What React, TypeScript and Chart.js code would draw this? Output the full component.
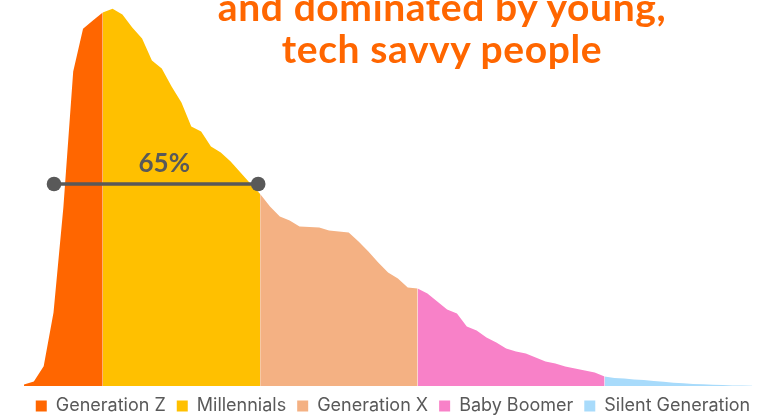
import React, { useEffect, useRef } from "react";
import { Chart, registerables } from "chart.js";

Chart.register(...registerables);

// Age of users (x axis)
const ages = [
  17, 18, 19, 20, 21, 22, 23, 24, 25, 26, 27, 28, 29, 30, 31, 32, 33, 34, 35, 36,
  37, 38, 39, 40, 41, 42, 43, 44, 45, 46, 47, 48, 49, 50, 51, 52, 53, 54, 55, 56,
  57, 58, 59, 60, 61, 62, 63, 64, 65, 66, 67, 68, 69, 70, 71, 72, 73, 74, 75, 76,
  77, 78, 79, 80, 81, 82, 83, 84, 85, 86, 87, 88, 89, 90, 91,
];

// Relative share of users at each age
const shares = [
  0.15, 0.45, 1.98, 7.35, 17.85, 31.45, 35.72, 36.55, 37.35, 37.72,
  37.15, 35.85, 34.75, 32.55, 31.75, 29.95, 28.35, 25.95, 25.45, 23.95,
  23.35, 22.45, 21.35, 20.25, 19.2, 17.95, 16.95, 16.55, 15.95, 15.9,
  15.85, 15.55, 15.45, 15.35, 14.45, 13.45, 12.35, 11.35, 10.75, 9.85,
  9.75, 9.25, 8.45, 7.65, 7.25, 5.95, 5.55, 4.85, 4.35, 3.75,
  3.45, 3.25, 2.85, 2.45, 2.25, 1.95, 1.75, 1.55, 1.35, 0.95,
  0.8, 0.75, 0.65, 0.59, 0.51, 0.42, 0.33, 0.27, 0.21, 0.17,
  0.13, 0.09, 0.06, 0.04, 0.02,
];

const generations = ["Generation Z", "Millennials", "Generation X", "Baby Boomer", "Silent Generation"];
const generationStartAges = [17, 25, 41, 57, 76];
const generationEndAges = [25, 41, 57, 76, 91];
const generationColors = ["#FF6600", "#FFC000", "#F4B183", "#F881C8", "#A8DBFB"];

const markerAges = [20.05, 40.8];
const markerLevel = 20.2;
const markerLabel = "65%";
const markerLabelAge = 31.25;
const markerLabelLevel = 21.45;

const titleLines = ["and dominated by young,", "tech savvy people"];

const markerLabelPlugin = {
  id: "markerLabel",
  afterDatasetsDraw(chart: any) {
    const { ctx, scales } = chart;
    ctx.save();
    ctx.font = "700 26px Lato";
    ctx.fillStyle = "#595959";
    ctx.textAlign = "center";
    ctx.textBaseline = "alphabetic";
    ctx.fillText(
      markerLabel,
      scales.x.getPixelForValue(markerLabelAge),
      scales.y.getPixelForValue(markerLabelLevel)
    );
    ctx.restore();
  },
};

export default function App() {
  const canvasRef = useRef<HTMLCanvasElement | null>(null);

  useEffect(() => {
    if (!canvasRef.current) return;
    const areaSets = generations.map((name, g) => ({
      type: "line" as const,
      label: name,
      data: ages
        .map((a, i) => ({ x: a, y: shares[i] }))
        .filter((p) => p.x >= generationStartAges[g] && p.x <= generationEndAges[g]),
      backgroundColor: generationColors[g],
      borderColor: "rgba(0,0,0,0)",
      borderWidth: 0,
      pointRadius: 0,
      pointHoverRadius: 0,
      fill: "origin",
      tension: 0,
      order: 1,
    }));
    const markerSet = {
      type: "line" as const,
      label: "marker",
      data: markerAges.map((a) => ({ x: a, y: markerLevel })),
      borderColor: "#595959",
      backgroundColor: "#595959",
      borderWidth: 3.4,
      pointRadius: 7.3,
      pointBorderWidth: 0,
      pointBackgroundColor: "#595959",
      fill: false,
      order: -1,
      clip: false,
    };
    const chart = new Chart(canvasRef.current, {
      type: "line",
      data: { datasets: [...areaSets, markerSet] as any },
      options: {
        animation: false,
        responsive: false,
        events: [],
        layout: { autoPadding: false, padding: { left: 24, right: 5, top: 0, bottom: 0 } },
        scales: {
          x: { type: "linear", min: 17, max: 92, display: false },
          y: { min: 0, max: 38.6, display: false },
        },
        plugins: {
          tooltip: { enabled: false },
          legend: {
            position: "bottom",
            labels: {
              font: { family: "Inter", size: 18 },
              color: "#595959",
              boxWidth: 11,
              boxHeight: 11,
              padding: 11,
              filter: (item: any) => item.datasetIndex < generations.length,
            },
          },
        },
      },
      plugins: [markerLabelPlugin],
    });
    return () => chart.destroy();
  }, []);

  return (
    <div style={{ position: "fixed", left: 0, top: 0, width: 767, height: 425, background: "#fff" }}>
      <canvas ref={canvasRef} width={767} height={425} style={{ display: "block" }} />
      <div
        style={{
          position: "absolute",
          left: 142,
          top: -15,
          width: 600,
          textAlign: "center",
          font: "700 39px Lato",
          lineHeight: "42px",
          letterSpacing: "0.6px",
          color: "#FF6600",
          pointerEvents: "none",
        }}
      >
        {titleLines.map((t) => (
          <div key={t}>{t}</div>
        ))}
      </div>
    </div>
  );
}
